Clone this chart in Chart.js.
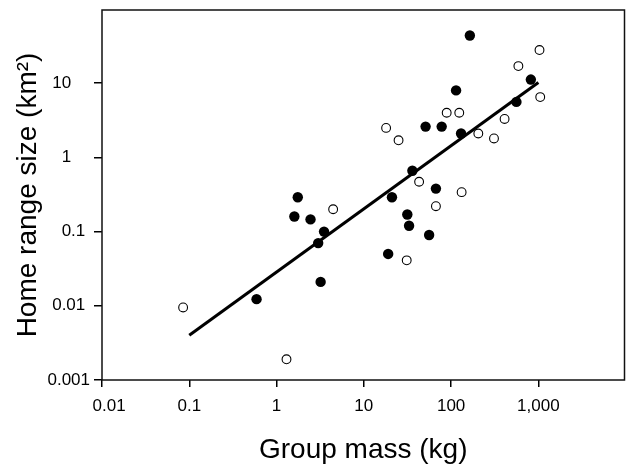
<!DOCTYPE html>
<html lang="en">
<head>
    <meta charset="UTF-8">
    <title>Home range vs group mass</title>
    <script src="https://cdn.jsdelivr.net/npm/chart.js"></script>
    <style>
        body { margin: 0; background: #fff; }
        .wrap { width: 630px; height: 469px; }
    </style>
</head>
<body>
    <div class="wrap">
        <canvas id="range-chart" width="630" height="469"></canvas>
    </div>

    <script>
        // filled circles
        const filledMass  = [0.59, 1.75, 1.6, 2.45, 3.5, 3.0, 3.2, 21, 36, 31.5, 33, 19, 56, 67, 164, 820, 560, 114, 51, 78, 130];
        const filledRange = [0.0123, 0.29, 0.16, 0.146, 0.1, 0.07, 0.021, 0.29, 0.66, 0.17, 0.12, 0.05, 0.09, 0.38, 44, 11.2, 5.6, 8, 2.6, 2.6, 2.1];

        // open circles
        const openMass  = [0.085, 1.3, 4.45, 43, 31, 67, 132, 1030, 590, 1050, 89, 124, 18, 25, 205, 310, 410];
        const openRange = [0.0095, 0.0019, 0.2, 0.47, 0.041, 0.22, 0.34, 28, 17, 6.5, 4, 4, 2.5, 1.7, 2.1, 1.8, 3.3];

        // fitted line
        const fitMass  = [0.1, 1000];
        const fitRange = [0.004, 10.2];

        const xTicks = [0.01, 0.1, 1, 10, 100, 1000];
        // spaces reproduce the uneven label placement of the original
        const xTickLabels = ['   0.01', '0.1', '1', '10', '100', '1,000'];
        const yTicks = [0.001, 0.01, 0.1, 1, 10];
        const yTickLabels = ['0.001', '0.01 ', '0.1 ', '1    ', '10    '];

        const toPoints = (xs, ys) => xs.map((x, i) => ({ x: x, y: ys[i] }));

        // box around the plot area
        const frame = {
            id: 'frame',
            afterDraw(chart) {
                const a = chart.chartArea;
                const c = chart.ctx;
                c.save();
                c.strokeStyle = '#111';
                c.lineWidth = 1.5;
                c.strokeRect(a.left, a.top, a.right - a.left, a.bottom - a.top);
                c.restore();
            }
        };

        // keep the axes from reserving extra room at their ends
        const noEndPadding = axis => {
            axis.paddingTop = 0;
            axis.paddingBottom = 0;
            axis.paddingLeft = 0;
            axis.paddingRight = 0;
        };

        Chart.defaults.font.family = '"Liberation Sans", Arial, sans-serif';
        Chart.defaults.color = '#000';

        new Chart(document.getElementById('range-chart'), {
            type: 'scatter',
            data: {
                datasets: [
                    {
                        data: toPoints(filledMass, filledRange),
                        backgroundColor: '#000',
                        borderColor: '#000',
                        borderWidth: 0,
                        pointRadius: 5.2
                    },
                    {
                        data: toPoints(openMass, openRange),
                        backgroundColor: '#fff',
                        borderColor: '#000',
                        borderWidth: 1.1,
                        pointRadius: 4.4
                    },
                    {
                        type: 'line',
                        data: toPoints(fitMass, fitRange),
                        borderColor: '#000',
                        borderWidth: 3,
                        pointRadius: 0,
                        fill: false
                    }
                ]
            },
            options: {
                responsive: false,
                animation: false,
                layout: { padding: { top: 10, right: 4, left: 0, bottom: 0 } },
                plugins: {
                    legend: { display: false },
                    tooltip: { enabled: false }
                },
                scales: {
                    x: {
                        type: 'logarithmic',
                        min: 0.01,
                        max: 9700,
                        afterFit: axis => { axis.height = 89; noEndPadding(axis); },
                        afterBuildTicks: axis => { axis.ticks = xTicks.map(v => ({ value: v })); },
                        border: { display: false },
                        grid: { drawOnChartArea: false, drawTicks: true, tickLength: 7, color: '#000', lineWidth: 1.5 },
                        ticks: {
                            autoSkip: false,
                            maxRotation: 0,
                            padding: 9,
                            font: { size: 17 },
                            callback: (v, i) => xTickLabels[i]
                        },
                        title: {
                            display: true,
                            text: 'Group mass (kg)',
                            font: { size: 28 },
                            padding: { top: 0, bottom: 2 }
                        }
                    },
                    y: {
                        type: 'logarithmic',
                        min: 0.001,
                        max: 97,
                        afterFit: axis => { axis.width = 102; noEndPadding(axis); },
                        afterBuildTicks: axis => { axis.ticks = yTicks.map(v => ({ value: v })); },
                        border: { display: false },
                        grid: { drawOnChartArea: false, drawTicks: true, tickLength: 8, color: '#000', lineWidth: 1.5 },
                        ticks: {
                            autoSkip: false,
                            padding: 4,
                            font: { size: 17 },
                            callback: (v, i) => yTickLabels[i]
                        },
                        title: {
                            display: true,
                            text: 'Home range size (km²)',
                            font: { size: 28 },
                            padding: { top: 11, bottom: 0 }
                        }
                    }
                }
            },
            plugins: [frame]
        });
    </script>
</body>
</html>
